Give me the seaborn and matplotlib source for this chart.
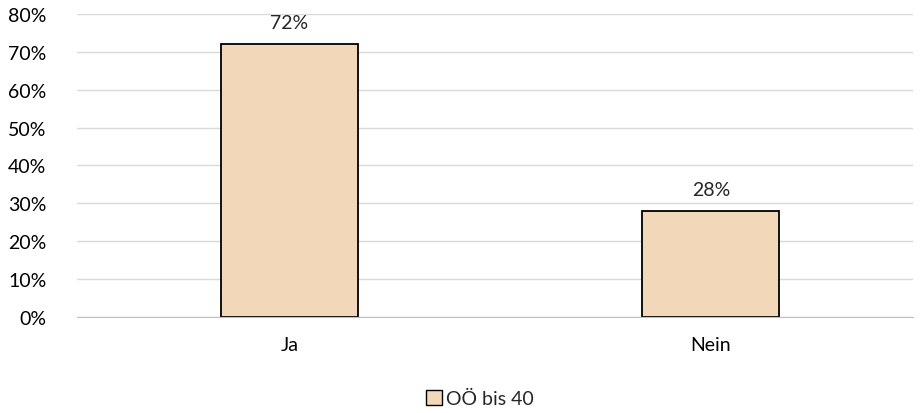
import matplotlib
matplotlib.use("Agg")
import matplotlib.pyplot as plt
import pandas as pd
import seaborn as sns

# Chart data
categories = ["Ja", "Nein"]
values = [0.72, 0.28]
series_name = "OÖ bis 40"
y_ticks = [0, 0.1, 0.2, 0.3, 0.4, 0.5, 0.6, 0.7, 0.8]

sns.set_style("white")
plt.rcParams["font.family"] = ["Lato", "DejaVu Sans"]

df = pd.DataFrame({"category": categories, "value": values, "series": series_name})

fig = plt.figure(figsize=(9.23, 4.14), dpi=100)
ax = fig.add_axes([0.0834, 0.2319, 0.9056, 0.7319])

sns.barplot(data=df, x="category", y="value", hue="series", palette=["#F2D8B8"], saturation=1,
            width=0.325, edgecolor="black", linewidth=1.3, ax=ax, legend=False, zorder=3)

ax.set_ylim(0, 0.8)
ax.set_yticks(y_ticks)
ax.set_yticklabels([f"{int(round(t * 100))}%" for t in y_ticks])
ax.set_xlim(-0.504, 1.479)
ax.set_xlabel("")
ax.set_ylabel("")
ax.grid(axis="y", color="#D9D9D9", linewidth=1, zorder=0)
for side in ["left", "right", "top"]:
    ax.spines[side].set_visible(False)
ax.spines["bottom"].set_color("#BFBFBF")
ax.spines["bottom"].set_zorder(4)
ax.tick_params(axis="both", length=0, labelsize=14, colors="#000000")
ax.tick_params(axis="y", pad=22)
ax.tick_params(axis="x", pad=14)

for i, v in enumerate(values):
    ax.text(i, v + 0.035, f"{int(round(v * 100))}%", ha="center", va="bottom", fontsize=14)

handle = plt.Rectangle((0, 0), 1, 1, facecolor="#F2D8B8", edgecolor="black", linewidth=1)
fig.legend([handle], [series_name], loc="center", bbox_to_anchor=(0.52, 0.035), frameon=False,
           fontsize=14, handlelength=0.8, handleheight=0.8, handletextpad=0.2)

fig.savefig("out.png", dpi=100)
